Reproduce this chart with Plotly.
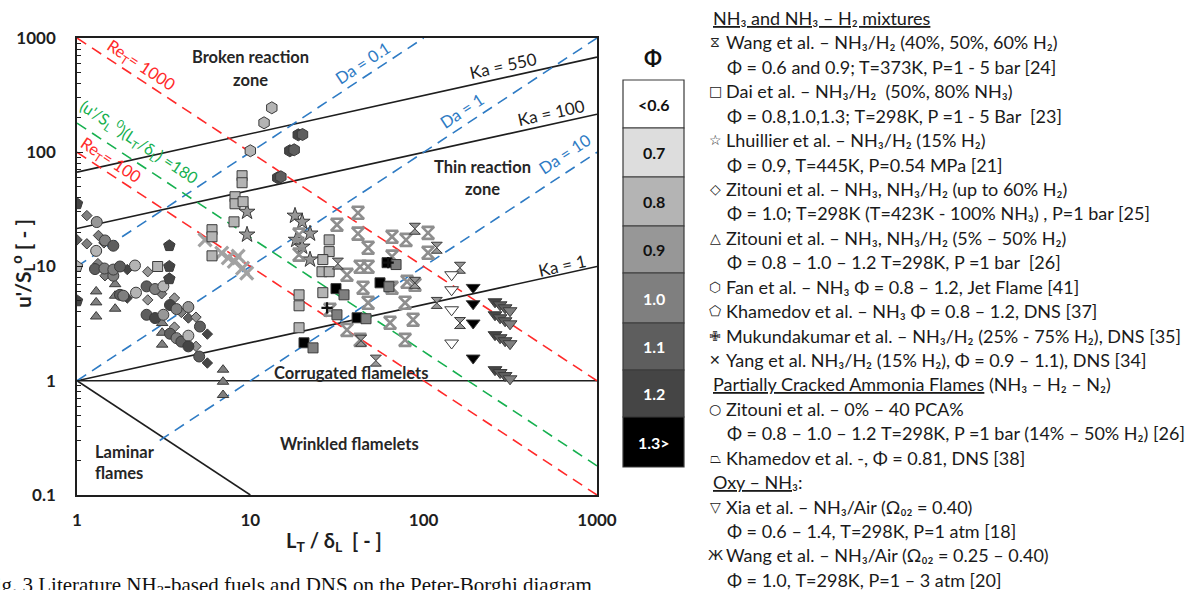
import plotly.graph_objects as go

# ---------------- DATA ----------------
# Colour key (equivalence ratio bins)
phi_bins = ["<0.6", "0.7", "0.8", "0.9", "1.0", "1.1", "1.2", "1.3>"]
phi_vals = [0.5, 0.7, 0.8, 0.9, 1.0, 1.1, 1.2, 1.3]
phi_fill = ["#FFFFFF", "#DDDDDD", "#B4B4B4", "#979797", "#7F7F7F", "#5E5E5E", "#454545", "#000000"]

# Wang et al. NH3/H2 (hourglass)
wang_h2_x = [89, 119, 162, 32, 89, 119, 162, 43.5, 53]
wang_h2_y = [21.4, 14.6, 9.75, 10.6, 7.2, 4.8, 3.2, 2.24, 1.5]
wang_h2_phi = [0.9] * 9

# Dai et al. (squares)
dai_x = [8.96, 8.96, 8.16, 8.16, 9.08, 8.05, 6.01, 6.01, 6.01,
         28.5, 28.5, 26.2, 25.9, 28.5, 26.2, 19.1, 19.1, 19.1,
         31.2, 20.4, 56, 41.3, 61.5,
         34.7, 23.0, 63, 46.5, 31.6, 69.3]
dai_y = [62.3, 54.1, 40.8, 35.4, 36.9, 24.6, 21.0, 18.2, 12.4,
         17.1, 13.5, 11.5, 9.0, 9.0, 5.9, 5.65, 4.53, 2.91,
         6.4, 2.15, 7.2, 3.56, 10.8,
         5.65, 1.94, 6.65, 3.49, 3.78, 10.4]
dai_phi = [0.8] * 18 + [1.3] * 5 + [1.0] * 6

# Lhuillier et al. (stars)
lhu_x = [9.57, 9.57, 18.1, 19.9, 22.1, 18.4, 19.9, 22.1]
lhu_y = [30.1, 19.0, 27.8, 24.6, 19.4, 17.1, 14.9, 11.5]
lhu_phi = [0.9] * 8

# Zitouni et al. NH3/H2 (diamonds)
zit_d_x = [1.14, 1.0, 1.14, 1.33, 1.43, 1.32, 1.45, 1.95, 2.56, 1.95, 2.56, 3.08, 3.65,
           4.0, 4.39, 4.86, 3.65, 4.86, 5.65, 5.65]
zit_d_y = [27.9, 17.1, 15.8, 18.7, 16.1, 10.6, 8.3, 9.4, 9.0, 5.3, 5.1, 5.77, 5.3,
           3.96, 3.54, 3.6, 2.95, 2.0, 2.56, 1.43]
zit_d_phi = [1.0, 1.1, 1.0, 1.0, 1.0, 1.0, 1.0, 1.2, 0.9, 1.2, 0.9, 1.0, 0.9,
             1.0, 1.1, 0.9, 0.9, 0.9, 1.2, 1.2]

# Zitouni et al. NH3/H2 5-50% (triangles)
zit_t_x = [1.29, 1.29, 1.29, 1.66, 1.66, 1.66, 3.1, 3.1, 3.1, 6.96, 6.96, 6.96]
zit_t_y = [6.05, 4.85, 3.65, 7.0, 5.55, 4.27, 3.2, 2.63, 2.07, 1.25, 0.98, 0.75]
zit_t_phi = [1.0] * 12

# Fan et al. jet flame (hexagons)
fan_x = [13.3, 12.0, 10.0, 18.9, 20.0, 16.9, 17.9, 14.4, 15.0]
fan_y = [245, 181, 103, 142, 143, 103, 105, 59.8, 61]
fan_phi = [0.8, 0.8, 0.8, 1.2, 1.1, 1.2, 1.1, 1.2, 1.1]

# Khamedov et al. NH3 DNS (pentagons)
kha_x = [1.0, 1.0, 1.0, 3.41, 3.41, 3.41]
kha_y = [35.4, 10.0, 5.0, 15.2, 10.0, 7.8]
kha_phi = [1.2, 0.8, 1.2, 1.2, 1.2, 1.2]

# Mukundakumar et al. DNS (crosses)
muk_x = [27.7, 62.4]
muk_y = [4.35, 10.8]

# Yang et al. DNS (x)
yang_x = [5.48, 6.84, 7.46, 8.08, 8.5, 9.02, 9.53]
yang_y = [17.1, 13.1, 11.9, 11.1, 12.3, 9.7, 8.76]

# Zitouni et al. partially cracked ammonia (circles)
zit_c_x = [1.30, 1.45, 1.62, 1.29, 1.27, 1.44, 1.62, 1.62, 1.77, 2.16, 1.77, 1.85, 2.19,
           2.52, 2.82, 3.15, 2.52, 2.82, 3.15, 3.44, 3.75, 4.39, 3.44, 3.75, 4.0, 4.39,
           4.39, 5.12, 5.07]
zit_c_y = [24.5, 16.9, 15.2, 13.7, 9.5, 9.6, 8.3, 9.4, 10.0, 10.2, 5.65, 5.55, 5.9,
           6.7, 6.35, 6.7, 3.78, 3.54, 3.78, 4.6, 4.24, 4.42, 2.58, 2.36, 2.2, 2.48,
           2.0, 2.98, 1.63]
zit_c_phi = [0.9, 1.0, 1.1, 0.8, 1.1, 1.0, 1.0, 1.0, 1.1, 0.8, 1.1, 1.0, 0.8,
             1.1, 1.0, 0.8, 1.1, 1.2, 0.9, 1.2, 1.0, 0.9, 1.1, 1.0, 1.1, 0.8,
             1.2, 1.1, 1.1]

# Khamedov et al. DNS [38] (trapezium)
kha2_x = [2.92]
kha2_y = [10.0]
kha2_phi = [0.8]

# Xia et al. oxy-NH3 (down triangles)
xia_x = [145, 145, 145, 145, 193, 193, 193, 193,
         258, 276, 295, 315, 258, 276, 295, 315,
         258, 276, 295, 315, 258, 276, 295, 315]
xia_y = [8.47, 6.26, 4.18, 2.14, 6.56, 4.72, 3.2, 1.58,
         4.91, 4.62, 4.35, 4.10, 3.78, 3.56, 3.35, 3.15,
         2.53, 2.38, 2.24, 2.11, 1.25, 1.18, 1.11, 1.04]
xia_phi = [0.5] * 4 + [1.3] * 4 + [1.2, 1.1, 1.1, 1.0] * 4

# Wang et al. oxy-NH3 (asterisk-like)
wang_o_x = [41.8, 31.6, 41.8, 65.7, 79.1, 106, 106, 47.8, 65.7, 43.0, 47.8, 36.1, 80.2,
            89.1, 44.7, 65.7, 47.8, 78.1, 64.0, 86.9, 78.1, 43.0, 36.1, 19.1, 19.1, 28.8]
wang_o_y = [29.5, 23.2, 19.4, 18.2, 17.1, 19.7, 13.2, 14.6, 12.2, 9.95, 9.95, 8.47, 7.36,
            6.92, 6.52, 6.52, 4.82, 4.82, 3.22, 3.42, 2.28, 2.28, 2.79, 19.0, 12.7, 4.18]

# Regime boundary lines (end points)
ka1_x, ka1_y = [1, 1000], [1, 10]
ka100_x, ka100_y = [1, 1000], [21.5, 215]
ka550_x, ka550_y = [1, 1000], [67, 680]
da01_x, da01_y = [1, 100], [10, 1000]
da1_x, da1_y = [1, 1000], [1, 1000]
da10_x, da10_y = [3, 1000], [0.3, 100]
re1000_x, re1000_y = [1, 1000], [1000, 1]
re100_x, re100_y = [1, 1000], [100, 0.1]
p180_x, p180_y = [1, 1000], [180, 0.18]
lam_x, lam_y = [1, 10], [1, 0.1]
hor_x, hor_y = [1, 1000], [1, 1]

legend_lines = [
    ("", "<u>NH₃ and NH₃ – H₂ mixtures</u>", 0),
    ("⧖", "Wang et al. – NH₃/H₂ (40%, 50%, 60% H₂)", 1),
    ("", "Φ = 0.6 and 0.9; T=373K, P=1 - 5 bar [24]", 1),
    ("□", "Dai et al. – NH₃/H₂  (50%, 80% NH₃)", 1),
    ("", "Φ = 0.8,1.0,1.3; T=298K, P =1 - 5 Bar  [23]", 1),
    ("☆", "Lhuillier et al. – NH₃/H₂ (15% H₂)", 1),
    ("", "Φ = 0.9, T=445K, P=0.54 MPa [21]", 1),
    ("◇", "Zitouni et al. – NH₃, NH₃/H₂ (up to 60% H₂)", 1),
    ("", "Φ = 1.0; T=298K (T=423K - 100% NH₃) , P=1 bar [25]", 1),
    ("△", "Zitouni et al. – NH₃, NH₃/H₂ (5% – 50% H₂)", 1),
    ("", "Φ = 0.8 – 1.0 – 1.2 T=298K, P =1 bar  [26]", 1),
    ("⬡", "Fan et al. – NH₃ Φ = 0.8 – 1.2, Jet Flame [41]", 1),
    ("⬠", "Khamedov et al. – NH₃ Φ = 0.8 – 1.2, DNS [37]", 1),
    ("✙", "Mukundakumar et al. – NH₃/H₂ (25% - 75% H₂), DNS [35]", 1),
    ("✕", "Yang et al. NH₃/H₂ (15% H₂), Φ = 0.9 – 1.1), DNS [34]", 1),
    ("", "<u>Partially Cracked Ammonia Flames</u> (NH₃ – H₂ – N₂)", 0),
    ("○", "Zitouni et al. – 0% – 40 PCA%", 1),
    ("", "Φ = 0.8 – 1.0 – 1.2 T=298K, P =1 bar (14% – 50% H₂) [26]", 1),
    ("⏢", "Khamedov et al. -, Φ = 0.81, DNS [38]", 1),
    ("", "<u>Oxy – NH₃</u>:", 0),
    ("▽", "Xia et al. – NH₃/Air (Ω₀₂ = 0.40)", 1),
    ("", "Φ = 0.6 – 1.4, T=298K, P=1 atm [18]", 1),
    ("Ж", "Wang et al. – NH₃/Air (Ω₀₂ = 0.25 – 0.40)", 1),
    ("", "Φ = 1.0, T=298K, P=1 – 3 atm [20]", 1),
]

# ---------------- LAYOUT HELPERS ----------------
W, H = 1200, 590
L, R, T, B = 77, 597, 38, 495
FONT = "Lato"


def px(x):
    return (x - L) / (R - L)


def py(y):
    return (B - y) / (B - T)


def col(phis):
    return [phi_fill[phi_vals.index(p)] for p in phis]


fig = go.Figure()


def line(xs, ys, color, dash="solid", width=1.6):
    fig.add_trace(go.Scatter(x=xs, y=ys, mode="lines", hoverinfo="skip",
                             line=dict(color=color, width=width, dash=dash),
                             showlegend=False))


BLUE, RED, GREEN, BLACK = "#2E7BC4", "#FF2A2A", "#16B04F", "#1E1E1E"
DASH = "11px,7px"
line(hor_x, hor_y, BLACK)
line(lam_x, lam_y, BLACK)
line(ka1_x, ka1_y, BLACK)
line(ka100_x, ka100_y, BLACK)
line(ka550_x, ka550_y, BLACK)
line(da01_x, da01_y, BLUE, DASH)
line(da1_x, da1_y, BLUE, DASH)
line(da10_x, da10_y, BLUE, DASH)
line(re1000_x, re1000_y, RED, DASH)
line(re100_x, re100_y, RED, DASH)
line(p180_x, p180_y, GREEN, DASH)

OUT = "#3A3A3A"


def pts(xs, ys, phis, symbol, size, lw=1.0, lc=OUT):
    fig.add_trace(go.Scatter(x=xs, y=ys, mode="markers", showlegend=False,
                             marker=dict(symbol=symbol, size=size, color=col(phis),
                                         line=dict(color=lc, width=lw))))


def open_pts(xs, ys, symbol, size, color, lw):
    fig.add_trace(go.Scatter(x=xs, y=ys, mode="markers", showlegend=False,
                             marker=dict(symbol=symbol, size=size, color=color,
                                         line=dict(color=color, width=lw))))


pts(zit_t_x, zit_t_y, zit_t_phi, "triangle-up", 10)
pts(zit_d_x, zit_d_y, zit_d_phi, "diamond", 8)
pts(zit_c_x, zit_c_y, zit_c_phi, "circle", 11)
pts(kha_x, kha_y, kha_phi, "pentagon", 12)
pts(kha2_x, kha2_y, kha2_phi, "square", 10)
pts(fan_x, fan_y, fan_phi, "hexagon", 12)
pts(lhu_x, lhu_y, lhu_phi, "star", 12)
open_pts(yang_x, yang_y, "x-thin-open", 13, "#A2A2A2", 3.2)
open_pts(wang_o_x, wang_o_y, "hourglass-open", 12, "#8E8E8E", 2.6)
pts(dai_x, dai_y, dai_phi, "square", 10)
pts(wang_h2_x, wang_h2_y, wang_h2_phi, "hourglass", 11)
open_pts(muk_x, muk_y, "cross-thin-open", 8, "#111111", 2.2)
pts(xia_x, xia_y, xia_phi, "triangle-down", 12)

ann = []


def A(text, x, y, size=15, color="#262626", angle=0, bold=False, xanchor="center",
      family=FONT, yanchor="middle"):
    ann.append(dict(text=text, x=px(x), y=py(y), xref="paper", yref="paper",
                    showarrow=False, textangle=angle, xanchor=xanchor, yanchor=yanchor,
                    font=dict(family=family, size=size, color=color,
                              weight="bold" if bold else "normal")))


# region names
RFS = 16.5
A("Broken reaction", 250, 57, RFS, bold=True)
A("zone", 250, 80, RFS, bold=True)
A("Thin reaction", 482, 167, RFS, bold=True)
A("zone", 482, 189, RFS, bold=True)
A("Corrugated flamelets", 351, 373, RFS, bold=True)
A("Wrinkled flamelets", 349, 444, RFS, bold=True)
A("Laminar", 93, 452, RFS, bold=True, xanchor="left")
A("flames", 93, 473, RFS, bold=True, xanchor="left")

RA, KA = 33.4, -12.4
A("Re<sub>T</sub>= 1000", 141, 66, 16.5, RED, RA)
A("Re<sub>T</sub>= 100", 111, 160, 16.5, RED, RA)
A("(u'/S<sub>L</sub><sup> 0</sup>)(L<sub>T</sub>/δ<sub>L</sub>) =180", 139, 141, 16, GREEN, RA)
A("Da = 0.1", 363, 63, 16.5, BLUE, -RA)
A("Da = 1", 462, 111, 16.5, BLUE, -RA)
A("Da = 10", 565, 154, 16.5, BLUE, -RA)
A("Ka = 550", 503, 65, 17, BLACK, KA)
A("Ka = 100", 551, 112, 17, BLACK, KA)
A("Ka = 1", 562, 265, 17, BLACK, KA)

# axis titles
A("L<sub>T</sub> / δ<sub>L</sub>  [ - ]", 334, 541, 20, "#1E1E1E", bold=True)
A("u'/S<sub>L</sub><sup>o</sup> [ - ]", 22, 264, 21, "#1E1E1E", angle=-90, bold=True)

# caption (cut by the page edge, as in the source)
A("Fig. 3 Literature NH<sub>3</sub>-based fuels and DNS on the Peter-Borghi diagram",
  -18, 571, 21, "#111111", family="Liberation Serif", xanchor="left", yanchor="top")

# colour key
shapes = []
edges = [80, 128, 177, 226, 273, 323, 370, 417, 467]
for i, lab in enumerate(phi_bins):
    shapes.append(dict(type="rect", xref="paper", yref="paper",
                       x0=px(623), x1=px(684), y0=py(edges[i + 1]), y1=py(edges[i]),
                       fillcolor=phi_fill[i], line=dict(color="#3A3A3A", width=1.2)))
    A("<b>%s</b>" % lab, 653.5, (edges[i] + edges[i + 1]) / 2, 16,
      "#111111" if i < 4 else "#FFFFFF")
A("Φ", 653, 57, 21, "#111111", bold=True)

# right-hand key text
LFS = 18
for i, (sym, txt, ind) in enumerate(legend_lines):
    yy = 18 + i * 24.43
    if sym:
        A(sym, 715, yy, 14, "#222222", family="DejaVu Sans")
        A(txt, 724, yy, LFS, "#1A1A1A", xanchor="left")
    elif ind:
        A(txt, 725, yy, LFS, "#1A1A1A", xanchor="left")
    else:
        A(txt, 711, yy, LFS, "#1A1A1A", xanchor="left")

tickfont = dict(family=FONT, size=17, color="#1E1E1E", weight="bold")
fig.update_layout(
    width=W, height=H,
    margin=dict(l=L, r=W - R, t=T, b=H - B, pad=0, autoexpand=False),
    paper_bgcolor="white", plot_bgcolor="white",
    showlegend=False,
    annotations=ann, shapes=shapes,
    xaxis=dict(type="log", range=[0, 3], dtick=1, showgrid=False, zeroline=False,
               showline=True, linecolor="#1E1E1E", linewidth=1.6, mirror=True,
               ticks="", tickfont=tickfont, exponentformat="none",
               ticklabelstandoff=9, automargin=False),
    yaxis=dict(type="log", range=[-1, 3], dtick=1, showgrid=False, zeroline=False,
               showline=True, linecolor="#1E1E1E", linewidth=1.6, mirror=True,
               ticks="inside", ticklen=6, tickcolor="#1E1E1E", tickwidth=1,
               minor=dict(ticks="inside", ticklen=4, tickcolor="#1E1E1E", dtick="D1",
                          showgrid=False),
               tickfont=tickfont, exponentformat="none", ticklabelstandoff=16,
               automargin=False),
)

fig.write_html("out.html")
